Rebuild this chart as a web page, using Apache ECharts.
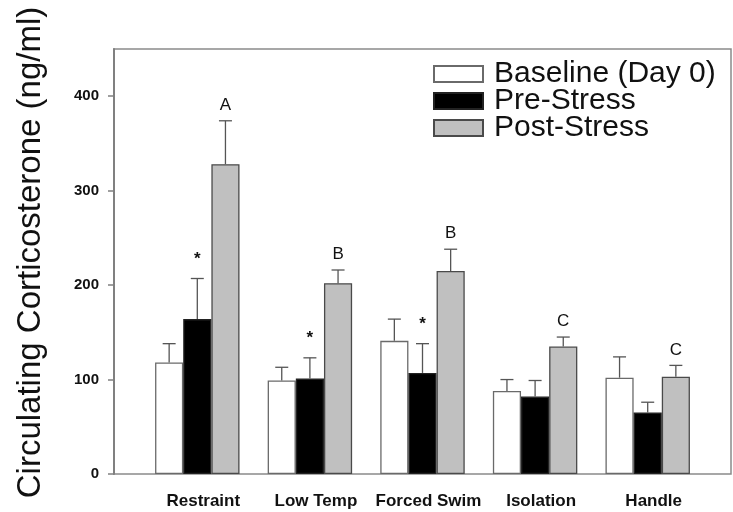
<!DOCTYPE html>
<html>
<head>
<meta charset="utf-8">
<script src="https://cdn.jsdelivr.net/npm/echarts@6/dist/echarts.min.js"></script>
<style>
html,body{margin:0;padding:0;background:#fff;}
#chart{width:733px;height:512px;}
</style>
</head>
<body>
<div id="chart"></div>
<script>
var categories = ['Restraint', 'Low Temp', 'Forced Swim', 'Isolation', 'Handle'];
var seriesNames = ['Baseline (Day 0)', 'Pre-Stress', 'Post-Stress'];
var baseline = [118, 99, 141, 88, 102];
var baselineSem = [20, 14, 23, 12, 22];
var baselineMarks = ['', '', '', '', ''];
var preStress = [164, 101, 107, 82, 65];
var preStressSem = [43, 22, 31, 17, 11];
var preStressMarks = ['*', '*', '*', '', ''];
var postStress = [328, 202, 215, 135, 103];
var postStressSem = [46, 14, 23, 10, 12];
var postStressMarks = ['A', 'B', 'B', 'C', 'C'];
var yTicks = [0, 100, 200, 300, 400];
var yMax = 450;

var groups = [
  {name: seriesNames[0], values: baseline, sem: baselineSem, marks: baselineMarks, fill: '#ffffff', border: '#6a6a6a'},
  {name: seriesNames[1], values: preStress, sem: preStressSem, marks: preStressMarks, fill: '#000000', border: '#222222'},
  {name: seriesNames[2], values: postStress, sem: postStressSem, marks: postStressMarks, fill: '#c0c0c0', border: '#4a4a4a'}
];
var barFrac = 0.25;

var chart = echarts.init(document.getElementById('chart'), null, {renderer: 'canvas'});
var series = [];
groups.forEach(function (g, gi) {
  series.push({
    name: g.name, type: 'bar', xAxisIndex: 1, yAxisIndex: 1,
    barWidth: (barFrac * 100) + '%', barGap: '0%',
    data: g.values,
    itemStyle: {color: g.fill, borderColor: g.border, borderWidth: 1.3},
    emphasis: {disabled: true}, z: 3
  });
});
groups.forEach(function (g, gi) {
  series.push({
    type: 'custom', xAxisIndex: 1, yAxisIndex: 1, z: 4, silent: true,
    data: g.values.map(function (v, i) { return [i, v, v + g.sem[i], g.marks[i]]; }),
    renderItem: function (params, api) {
      var idx = api.value(0);
      var band = api.size([1, 0])[0];
      var off = (gi - 1) * band * barFrac;
      var pTop = api.coord([idx, api.value(1)]);
      var pErr = api.coord([idx, api.value(2)]);
      var x = pTop[0] + off;
      var cap = 6.5;
      var mark = g.marks[idx];
      var children = [
        {type: 'line', shape: {x1: x, y1: pTop[1], x2: x, y2: pErr[1]}, style: {stroke: '#555', lineWidth: 1.3}},
        {type: 'line', shape: {x1: x - cap, y1: pErr[1], x2: x + cap, y2: pErr[1]}, style: {stroke: '#555', lineWidth: 1.3}}
      ];
      if (mark) {
        var isStar = mark === '*';
        children.push({type: 'text', x: x, y: pErr[1] - (isStar ? 11 : 7), style: {
          text: mark, align: 'center', verticalAlign: 'bottom',
          font: (isStar ? 'bold 17px' : '17px') + ' "Liberation Sans", Arial, sans-serif', fill: '#111'
        }});
      }
      return {type: 'group', children: children};
    }
  });
});

var option = {
  animation: false,
  backgroundColor: '#ffffff',
  grid: [
    {left: 114, right: 2, top: 49, bottom: 38, show: true, borderColor: '#8a8a8a', borderWidth: 1.5, backgroundColor: 'transparent'},
    {left: 141, right: 29, top: 49, bottom: 38}
  ],
  xAxis: [
    {gridIndex: 0, type: 'value', min: 0, max: 1, show: false},
    {gridIndex: 1, type: 'category', data: categories,
     axisLine: {show: false}, axisTick: {show: false},
     axisLabel: {interval: 0, hideOverlap: false, margin: 19, padding: [0, 0, 0, 12], fontSize: 17, fontWeight: 'bold', color: '#111', fontFamily: '"Liberation Sans", Arial, sans-serif'}}
  ],
  yAxis: [
    {gridIndex: 0, type: 'value', min: 0, max: yMax,
     name: 'Circulating Corticosterone (ng/ml)', nameLocation: 'middle', nameGap: 67, nameRotate: 90,
     nameTextStyle: {fontSize: 33, color: '#111', fontFamily: '"Liberation Sans", Arial, sans-serif', padding: [0, 0, 0, 18]},
     splitLine: {show: false},
     axisLine: {show: true, lineStyle: {color: '#808080', width: 2}},
     axisTick: {show: true, inside: false, length: 6, customValues: yTicks, lineStyle: {color: '#808080', width: 1.5}},
     axisLabel: {customValues: yTicks, margin: 15, fontSize: 15, fontWeight: 'bold', color: '#111', fontFamily: '"Liberation Sans", Arial, sans-serif'}},
    {gridIndex: 1, type: 'value', min: 0, max: yMax, show: false}
  ],
  legend: {
    data: seriesNames, orient: 'vertical', left: 428, top: 54,
    itemWidth: 49, itemHeight: 16, itemGap: -3, icon: 'rect',
    selectedMode: false,
    textStyle: {fontSize: 30, color: '#111', fontFamily: '"Liberation Sans", Arial, sans-serif', padding: [0, 0, 0, 6]}
  },
  series: series
};
chart.setOption(option);
</script>
</body>
</html>
